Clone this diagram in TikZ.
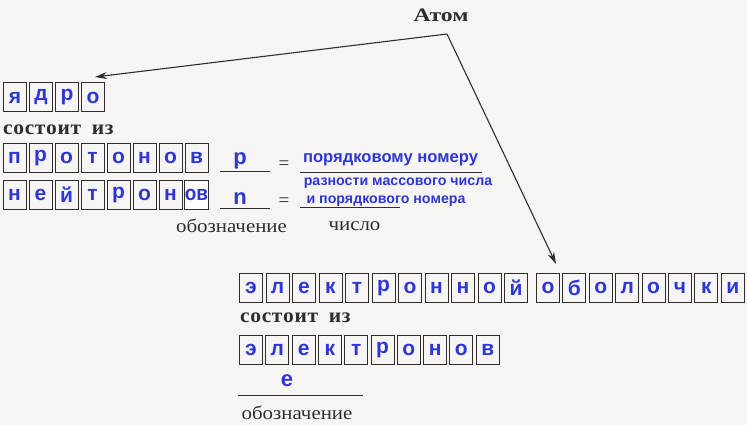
\documentclass[tikz,border=0pt]{standalone}
\usepackage{fontspec}
\setmainfont{Liberation Serif}
\newfontfamily\lettersf{Liberation Sans}
\usetikzlibrary{arrows.meta}
\definecolor{bg}{RGB}{247,245,243}
\definecolor{ink}{RGB}{50,45,45}
\definecolor{fillblue}{RGB}{45,55,215}
\newcommand{\hstretch}[2]{\scalebox{#1}[1]{#2}}
\tikzset{
  lbox/.style={draw=ink, line width=1pt, minimum width=23pt, minimum height=29pt, inner sep=0pt,
    font=\lettersf\bfseries\fontsize{21}{21}\selectfont, text=fillblue},
  bluebig/.style={font=\lettersf\bfseries\fontsize{16.6}{16.6}\selectfont, text=fillblue, inner sep=0pt},
  bluesmall/.style={font=\lettersf\bfseries\fontsize{14.2}{14.2}\selectfont, text=fillblue, inner sep=0pt},
  bluesym/.style={font=\lettersf\bfseries\fontsize{22}{22}\selectfont, text=fillblue, inner sep=0pt},
  printed/.style={font=\fontsize{19}{19}\selectfont, text=ink, inner sep=0pt},
  printedsb/.style={font=\bfseries\fontsize{19}{19}\selectfont, text=ink, inner sep=0pt},
  sostoit/.style={font=\bfseries\fontsize{20.5}{20.5}\selectfont, text=ink, inner sep=0pt, anchor=west},
  rule/.style={draw=ink, line width=0.9pt},
  arr/.style={draw=ink, line width=1.1pt, -{Stealth[length=12pt,width=7pt]}},
}
\newcommand{\sostoitiz}{\hstretch{1.05}{с\kern0.6pt о\kern0.6pt с\kern0.6pt т\kern0.6pt о\kern0.6pt и\kern0.6pt т\ \ и\kern0.6pt з}}
\begin{document}
\begin{tikzpicture}[x=1pt,y=-1pt]
\fill[bg] (0,0) rectangle (747,425);
\useasboundingbox (0,0) rectangle (747,425);

% title and arrows
\node[printedsb] (atom) at (441,15) {\hstretch{1.25}{Атом}};
\coordinate (apex) at (447,34);
\coordinate (tipL) at (95,77);
\coordinate (tipR) at (556,264);
\draw[arr] (apex) -- (tipL);
\draw[arr] (apex) -- (tipR);

% nucleus
\foreach \ch [count=\i] in {я,д,р,о}
  \node[lbox] (ya\i) at ({15+26*(\i-1)},97.5) {\ch};
\node[sostoit] (sost1) at (3,130) {\sostoitiz};

\foreach \ch [count=\i] in {п,р,о,т,о,н,о,в}
  \node[lbox] (pr\i) at ({14.5+26*(\i-1)},158) {\ch};
\foreach \ch [count=\i] in {н,е,й,т,р,о,н}
  \node[lbox] (ne\i) at ({14.5+26*(\i-1)},195) {\ch};
\node[lbox, fill=white] (ne8) at ({14.5+26*7},195) {\hstretch{0.9}{ов}};

% proton line
\node[bluesym] (psym) at (240,161) {p};
\coordinate (pl1) at (220,171); \coordinate (pl2) at (270,171);
\draw[rule] (pl1) -- (pl2);
\node[printed] (peq) at (284,165) {=};
\coordinate (pr1) at (300,172); \coordinate (pr2) at (482,172);
\draw[rule] (pr1) -- (pr2);
\node[bluebig] (pnum) at (390.5,160) {порядковому номеру};

% neutron line
\node[bluesym] (nsym) at (240,199) {n};
\coordinate (nl1) at (220,208); \coordinate (nl2) at (270,208);
\draw[rule] (nl1) -- (nl2);
\node[printed] (neq) at (284,202) {=};
\coordinate (nr1) at (300,207); \coordinate (nr2) at (400,207);
\draw[rule] (nr1) -- (nr2);
\node[bluesmall] (nnum1) at (398,183) {разности массового числа};
\node[bluesmall] (nnum2) at (386,201) {и порядкового номера};

\node[printed] (oboz1) at (231.5,226) {\hstretch{1.1}{обозначение}};
\node[printed] (chislo) at (354.5,226) {\hstretch{1.1}{число}};

% electron shell
\foreach \ch [count=\i] in {э,л,е,к,т,р,о,н,н,о,й}
  \node[lbox] (sh\i) at ({251+26.5*(\i-1)},288) {\ch};
\foreach \ch [count=\i] in {о,б,о,л,о,ч,к,и}
  \node[lbox] (ob\i) at ({548+26.4*(\i-1)},288) {\ch};
\node[sostoit] (sost2) at (240,318) {\sostoitiz};
\foreach \ch [count=\i] in {э,л,е,к,т,р,о,н,о,в}
  \node[lbox] (el\i) at ({251+26.3*(\i-1)},350) {\ch};

\node[bluesym] (esym) at (287,381) {e};
\coordinate (el1) at (238,395); \coordinate (el2) at (363,395);
\draw[rule] (el1) -- (el2);
\node[printed] (oboz2) at (297,413) {\hstretch{1.1}{обозначение}};
\end{tikzpicture}
\end{document}
